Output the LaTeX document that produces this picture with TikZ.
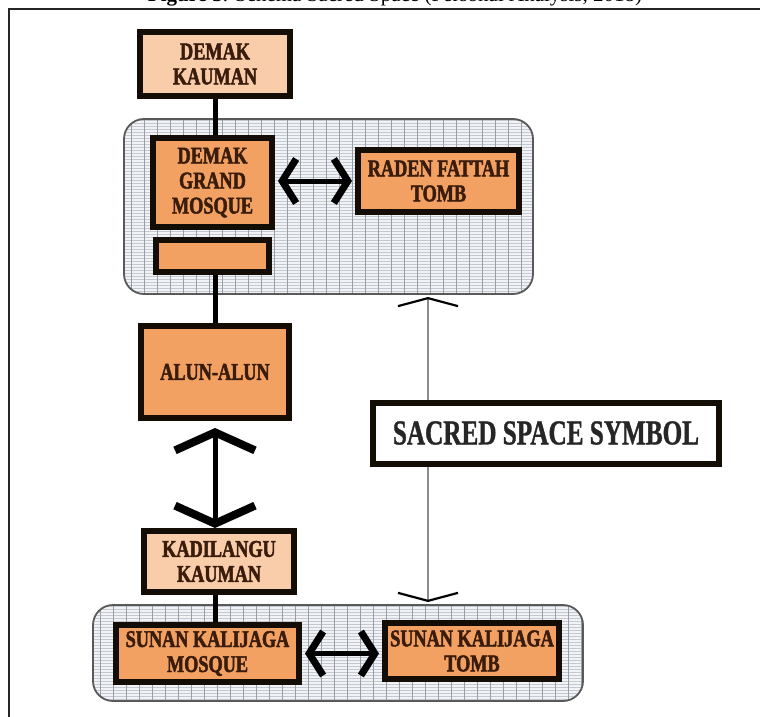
\documentclass[tikz,border=0pt]{standalone}
\usepackage{fontspec}
\setmainfont{Liberation Serif}
\newfontfamily\boxfont[FakeStretch=0.76,FakeBold=2]{Liberation Serif}
\newfontfamily\symfont[FakeStretch=0.72,FakeBold=1]{Liberation Serif}
\usetikzlibrary{arrows.meta}
\definecolor{peach}{HTML}{F9CDAA}
\definecolor{orng}{HTML}{F2A163}
\definecolor{txtbrown}{HTML}{3A1C0C}
\definecolor{gridfill}{HTML}{F2F3F6}
\definecolor{gridfine}{HTML}{C4C8D0}
\definecolor{gridmajor}{HTML}{9A9EA6}
\tikzset{
  boxbase/.style={draw=black!90!brown, line width=3pt, inner sep=0pt, align=center,
    text=txtbrown, font=\boxfont\bfseries\fontsize{12}{12.5}\selectfont},
  lightbox/.style={boxbase, fill=peach},
  darkbox/.style={boxbase, fill=orng},
  link/.style={line width=2.5pt, black},
  harrow/.style={line width=2.5pt, black, {Straight Barb[length=7pt,width=22pt,line width=3.5pt]}-{Straight Barb[length=7pt,width=22pt,line width=3.5pt]}},
  varrow/.style={line width=2.5pt, black, {Straight Barb[length=9pt,width=40pt,line width=4pt]}-{Straight Barb[length=9pt,width=40pt,line width=4pt]}},
  grayarrow/.style={line width=1.3pt, draw=black!45, {Straight Barb[length=4pt,width=30pt,line width=1.1pt,black]}-{Straight Barb[length=4pt,width=30pt,line width=1.1pt,black]}},
  fineline/.style={draw=gridfine, line width=0.25pt},
  majorline/.style={draw=gridmajor, line width=0.4pt},
  gridborder/.style={draw=black!65, line width=0.9pt, rounded corners=10pt},
  framestyle/.style={draw=black!85, line width=0.9pt}
}
\begin{document}
\begin{tikzpicture}[x=0.5pt,y=-0.5pt]
\useasboundingbox (0,0) rectangle (760,717);
\clip (0,0) rectangle (760,717);
\fill[white] (0,0) rectangle (760,717);

% partial caption at the top
\node[anchor=base, font=\fontsize{10.5}{12}\selectfont, inner sep=0pt] (caption) at (395,2)
  {\textbf{Figure 3}. Schema Sacred Space (Personal Analysis, 2018)};
% frame
\draw[framestyle] (9,717) -- (9,9) -- (760,9);

% upper grid background
\begin{scope}
  \clip[rounded corners=10pt] (124,119) rectangle (533,294);
  \fill[gridfill] (124,119) rectangle (533,294);
  \foreach \yy in {120,123,...,294} \draw[fineline] (124,\yy) -- (533,\yy);
  \foreach \xx in {131,144,...,533} \draw[majorline] (\xx,119) -- (\xx,294);
\end{scope}
\draw[gridborder] (124,119) rectangle (533,294);

% lower grid background
\begin{scope}
  \clip[rounded corners=10pt] (93,605) rectangle (583,701);
  \fill[gridfill] (93,605) rectangle (583,701);
  \foreach \yy in {606,609,...,701} \draw[fineline] (93,\yy) -- (583,\yy);
  \foreach \xx in {100,113,...,583} \draw[majorline] (\xx,605) -- (\xx,701);
\end{scope}
\draw[gridborder] (93,605) rectangle (583,701);

% gray sacred arrow
\coordinate (gtop) at (428,297);
\coordinate (gbot) at (428,602);
\draw[grayarrow] (gtop) -- (gbot);

% nodes
\node[lightbox, minimum width=75pt, minimum height=32pt] (dk) at (215,64) {DEMAK\\KAUMAN};
\node[darkbox, minimum width=59.5pt, minimum height=44.5pt] (dgm) at (212.5,182.5) {DEMAK\\GRAND\\MOSQUE};
\node[darkbox, minimum width=56.5pt, minimum height=16pt] (sb) at (212.5,256) {};
\node[darkbox, minimum width=80.5pt, minimum height=31pt] (rft) at (438.5,181) {RADEN FATTAH\\TOMB};
\node[darkbox, minimum width=74pt, minimum height=46pt] (alun) at (215,372) {ALUN-ALUN};
\node[lightbox, minimum width=75pt, minimum height=30.5pt] (kad) at (219,561.5) {KADILANGU\\KAUMAN};
\node[darkbox, minimum width=91.5pt, minimum height=28.5pt] (skm) at (207.5,653.5) {SUNAN KALIJAGA\\MOSQUE};
\node[darkbox, minimum width=87pt, minimum height=28pt] (skt) at (472,651) {SUNAN KALIJAGA\\TOMB};
\node[boxbase, fill=white, text=black!85, minimum width=173pt, minimum height=30.5pt,
  font=\symfont\bfseries\fontsize{17.5}{19}\selectfont] (sacred) at (546,433) {SACRED SPACE SYMBOL};

% connectors
\draw[link] (dk.south -| 215,0) -- (dgm.north -| 215,0);
\draw[link] (sb.south -| 215,0) -- (alun.north -| 215,0);
\draw[link] (kad.south -| 215,0) -- (skm.north -| 215,0);
\draw[varrow] ([yshift=-3.5pt]alun.south) -- ([yshift=0pt]kad.north -| alun.south);
\draw[harrow] (dgm.east |- rft.west) ++(1.5pt,0) -- ([xshift=-1.5pt]rft.west);
\draw[harrow] ([xshift=1.5pt]skm.east) -- ([xshift=-1.5pt]skt.west |- skm.east);
\end{tikzpicture}
\end{document}
